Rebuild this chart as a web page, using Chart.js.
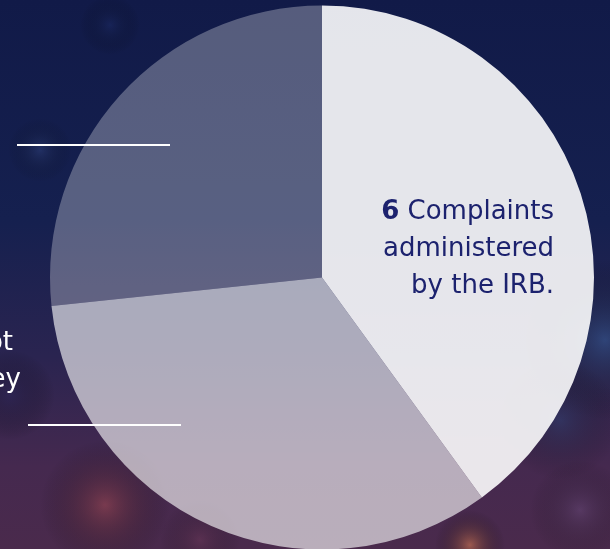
<!DOCTYPE html>
<html>
<head>
<meta charset="utf-8">
<script src="https://cdn.jsdelivr.net/npm/chart.js@4.4.1/dist/chart.umd.min.js"></script>
<style>
  html, body { margin: 0; padding: 0; background: #121c4b; overflow: hidden; }
  canvas { display: block; }
</style>
</head>
<body>
<canvas id="mycanvas" width="610" height="549"></canvas>
<script>
// slices, clockwise from 12 o'clock
var labels = ['Complaints administered by the IRB', 'Other', 'Other 2'];
var values = [6, 5, 4];
var sliceColors = ['rgba(255,255,255,0.89)', 'rgba(255,255,255,0.62)', 'rgba(255,255,255,0.29)'];
var calloutNumber = '6';
var calloutLines = [' Complaints', 'administered', 'by the IRB.'];
var leftFragments = ['ot', 'ey'];

var bgPlugin = {
	id: 'bg',
	beforeDraw: function(chart){
		var c = chart.ctx, w = chart.width, h = chart.height;
		c.save();
		var g = c.createLinearGradient(0, 0, 0, h);
		g.addColorStop(0, '#111a48');
		g.addColorStop(0.4, '#15204f');
		g.addColorStop(0.65, '#2a2450');
		g.addColorStop(0.85, '#45294f');
		g.addColorStop(1, '#4a2a4c');
		c.fillStyle = g;
		c.fillRect(0, 0, w, h);
		var spots = [
			[605, 340, 80, 'rgba(55,100,160,0.5)'],
			[560, 420, 60, 'rgba(40,70,120,0.4)'],
			[105, 505, 65, 'rgba(170,75,80,0.5)'],
			[470, 545, 35, 'rgba(210,120,80,0.6)'],
			[40, 150, 32, 'rgba(55,75,135,0.4)'],
			[110, 25, 30, 'rgba(30,45,105,0.45)'],
			[580, 510, 50, 'rgba(110,80,130,0.4)'],
			[10, 395, 45, 'rgba(40,35,85,0.5)'],
			[200, 540, 40, 'rgba(120,60,90,0.35)']
		];
		spots.forEach(function(s){
			var r = c.createRadialGradient(s[0], s[1], 0, s[0], s[1], s[2]);
			r.addColorStop(0, s[3]);
			r.addColorStop(1, 'rgba(0,0,0,0)');
			c.fillStyle = r;
			c.fillRect(s[0]-s[2], s[1]-s[2], s[2]*2, s[2]*2);
		});
		c.restore();
	},
	afterDraw: function(chart){
		var c = chart.ctx;
		c.save();
		// separator rules
		c.strokeStyle = '#ffffff';
		c.lineWidth = 2;
		c.beginPath();
		c.moveTo(17, 145); c.lineTo(170, 145);
		c.moveTo(28, 425); c.lineTo(181, 425);
		c.stroke();
		// callout text
		c.fillStyle = '#1c226e';
		c.textAlign = 'right';
		c.textBaseline = 'alphabetic';
		var font = '"DejaVu Sans", sans-serif';
		c.font = '26px ' + font;
		var w1 = c.measureText(calloutLines[0]).width;
		c.fillText(calloutLines[0], 554, 219);
		c.font = 'bold 26px ' + font;
		c.fillText(calloutNumber, 554 - w1, 219);
		c.font = '26px ' + font;
		c.fillText(calloutLines[1], 554, 256);
		c.fillText(calloutLines[2], 554, 293);
		// cut-off text on the left
		c.fillStyle = '#ffffff';
		c.fillText(leftFragments[0], 13, 350);
		c.fillText(leftFragments[1], 21, 387);
		c.restore();
	}
};

var ctx = document.getElementById('mycanvas');
var pieChart = new Chart(ctx, {
	type: 'pie',
	data: {
		labels: labels,
		datasets: [{
			data: values,
			backgroundColor: sliceColors,
			hoverBackgroundColor: sliceColors,
			borderWidth: 0
		}]
	},
	options: {
		responsive: false,
		animation: false,
		radius: 272,
		layout: { padding: { top: 6, bottom: -1, left: 34, right: 0 } },
		plugins: { legend: { display: false }, tooltip: { enabled: false } }
	},
	plugins: [bgPlugin]
});
</script>
</body>
</html>
